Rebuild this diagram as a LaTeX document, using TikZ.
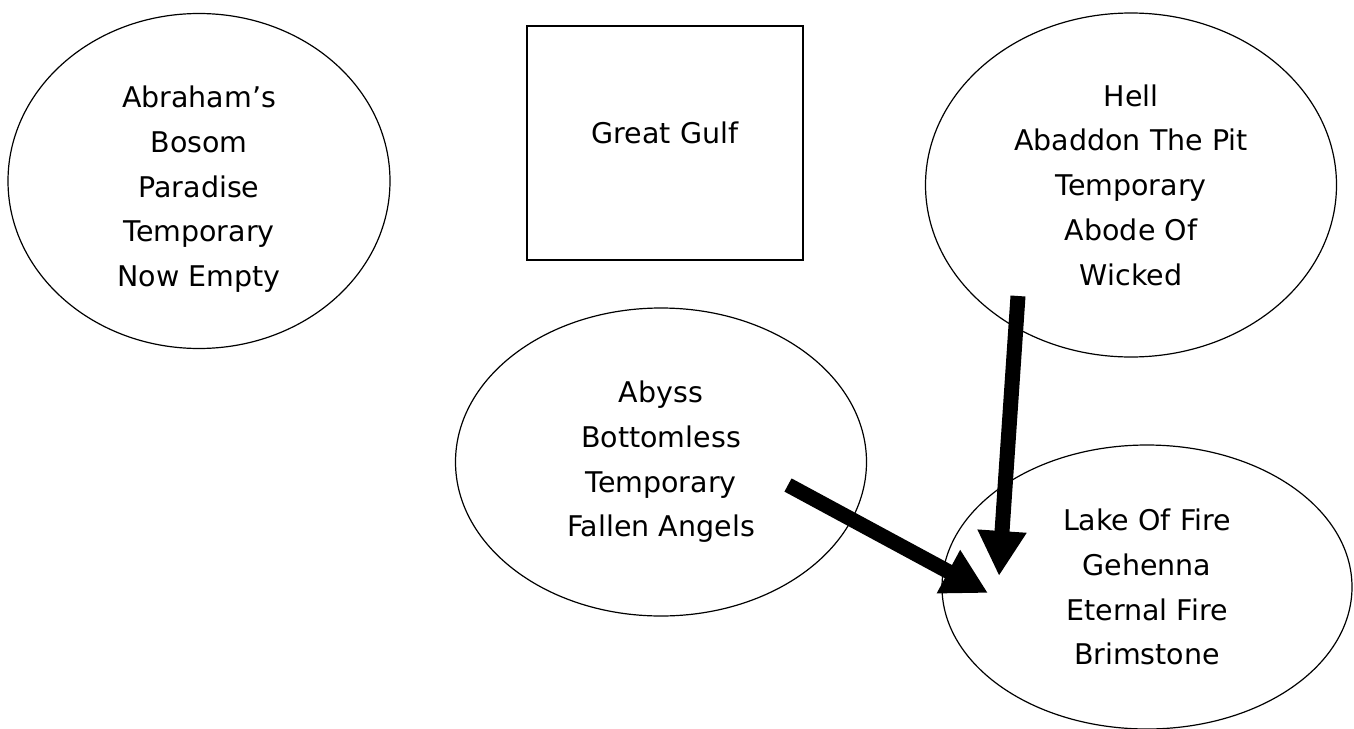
\documentclass[tikz,border=0pt]{standalone}
\usepackage{fontspec}
\setmainfont{DejaVu Sans}
\usetikzlibrary{shapes.geometric,arrows.meta}

\begin{document}
\begin{tikzpicture}[x=1pt,y=-1pt,
    place/.style={ellipse,draw,line width=1.2pt,inner sep=0pt,outer sep=0pt,align=center,
        font=\fontsize{28.5}{44.75}\selectfont},
    gulfbox/.style={rectangle,draw,line width=1.5pt,inner sep=0pt,outer sep=0pt,
        minimum width=276pt,minimum height=234pt},
    bigarrow/.style={line width=15pt,-{Triangle[length=45pt,width=46pt]}}]
    \useasboundingbox (0,0) rectangle (1354,728);

    \node[place,minimum width=382pt,minimum height=335pt] (bosom) at (199,181)
        {\rule{0pt}{38pt}Abraham’s\\Bosom\\Paradise\\Temporary\\Now Empty};
    \node[gulfbox,label={[name=gulftext,yshift=10pt,font=\fontsize{28.5}{44.75}\selectfont]center:Great Gulf}] (gulf) at (665,143) {};
    \node[place,minimum width=411pt,minimum height=344pt] (hell) at (1131,185)
        {Hell\\Abaddon The Pit\\Temporary\\Abode Of\\Wicked};
    \node[place,minimum width=411pt,minimum height=308pt] (abyss) at (661,462)
        {Abyss\\Bottomless\\Temporary\\Fallen Angels};
    \node[place,minimum width=410pt,minimum height=284pt] (lake) at (1147,587)
        {Lake Of Fire\\Gehenna\\Eternal Fire\\Brimstone};

    \coordinate (hellfoot) at (1018,296);
    \coordinate (laketop) at (999,576);
    \coordinate (abyssside) at (788,485);
    \coordinate (lakeside) at (988,593);

    \draw[bigarrow] (hellfoot) -- (laketop);
    \draw[bigarrow] (abyssside) -- (lakeside);
\end{tikzpicture}
\end{document}
